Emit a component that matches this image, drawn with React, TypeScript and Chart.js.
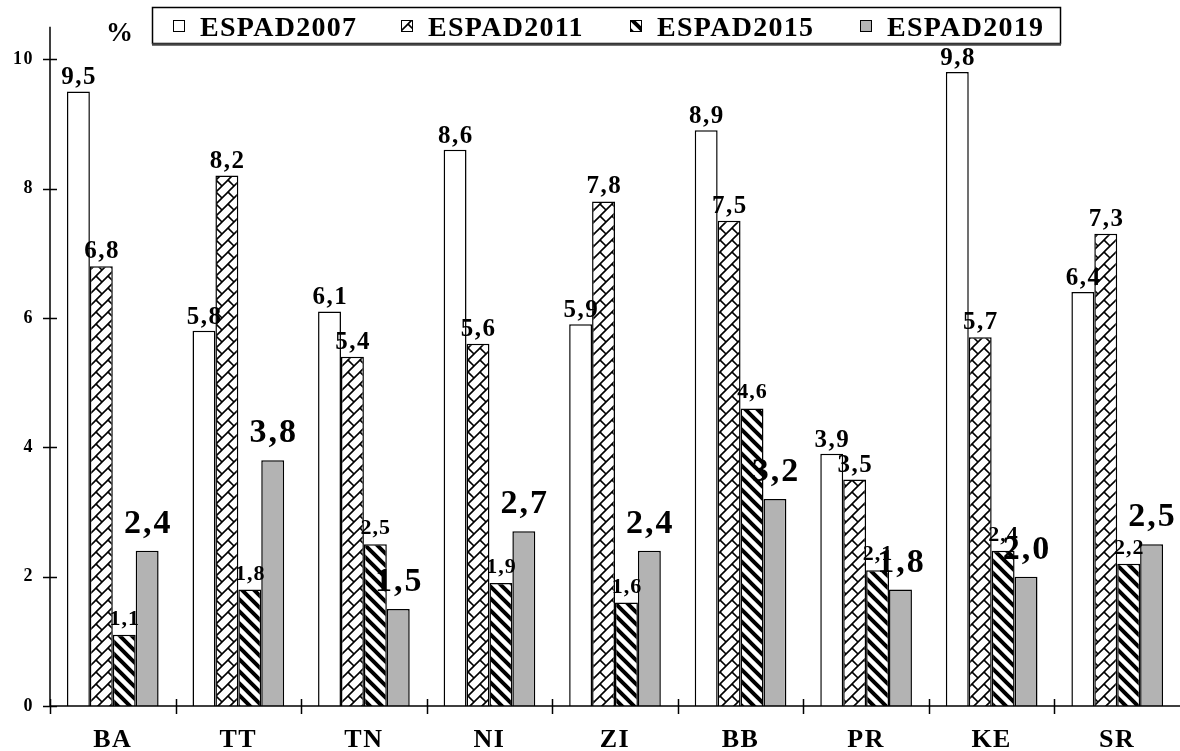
import React, { useEffect, useRef } from "react";
import { Chart, registerables } from "chart.js";

Chart.register(...registerables);

const categories = ["BA", "TT", "TN", "NI", "ZI", "BB", "PR", "KE", "SR"];
const seriesNames = ["ESPAD2007", "ESPAD2011", "ESPAD2015", "ESPAD2019"];
const espad2007 = [9.5, 5.8, 6.1, 8.6, 5.9, 8.9, 3.9, 9.8, 6.4];
const espad2011 = [6.8, 8.2, 5.4, 5.6, 7.8, 7.5, 3.5, 5.7, 7.3];
const espad2015 = [1.1, 1.8, 2.5, 1.9, 1.6, 4.6, 2.1, 2.4, 2.2];
const espad2019 = [2.4, 3.8, 1.5, 2.7, 2.4, 3.2, 1.8, 2.0, 2.5];
const yTicks = [0, 2, 4, 6, 8, 10];
const yMax = 10.5;
const unitLabel = "%";

const SERIF = '"Liberation Serif", "Times New Roman", serif';

function makeHatch2011(ctx: CanvasRenderingContext2D): CanvasPattern {
  const s = 12;
  const c = document.createElement("canvas");
  c.width = s;
  c.height = s;
  const g = c.getContext("2d")!;
  g.fillStyle = "#fff";
  g.fillRect(0, 0, s, s);
  g.strokeStyle = "#000";
  g.lineWidth = 1.6;
  g.beginPath();
  for (const k of [-s, 0, s]) {
    g.moveTo(-2 + k, s + 2);
    g.lineTo(s + 2 + k, -2);
  }
  g.moveTo(0, 0);
  g.lineTo(6, 6);
  g.stroke();
  return ctx.createPattern(c, "repeat")!;
}

function makeHatch2015(ctx: CanvasRenderingContext2D): CanvasPattern {
  const s = 12;
  const c = document.createElement("canvas");
  c.width = s;
  c.height = s;
  const g = c.getContext("2d")!;
  g.fillStyle = "#fff";
  g.fillRect(0, 0, s, s);
  g.strokeStyle = "#000";
  g.lineWidth = 4;
  g.beginPath();
  for (const k of [-s, 0, s]) {
    g.moveTo(-2 + k, -2);
    g.lineTo(s + 2 + k, s + 2);
  }
  g.stroke();
  return ctx.createPattern(c, "repeat")!;
}

function fmt(v: number): string {
  return v.toFixed(1).replace(".", ",");
}

function drawSpaced(
  ctx: CanvasRenderingContext2D,
  text: string,
  cx: number,
  y: number,
  spacing: number,
  align: "center" | "left" | "right"
) {
  (ctx as any).letterSpacing = spacing + "px";
  ctx.textAlign = "left";
  const w = ctx.measureText(text).width - spacing;
  let x = cx;
  if (align === "center") x = cx - w / 2;
  else if (align === "right") x = cx - w;
  ctx.fillText(text, x, y);
  (ctx as any).letterSpacing = "0px";
}

export default function App() {
  const ref = useRef<HTMLCanvasElement | null>(null);

  useEffect(() => {
    document.body.style.margin = "0";
    const canvas = ref.current!;
    const ctx = canvas.getContext("2d")!;
    const p2011 = makeHatch2011(ctx);
    const p2015 = makeHatch2015(ctx);
    const fills: (string | CanvasPattern)[] = ["#ffffff", p2011, p2015, "#b3b3b3"];
    const seriesData = [espad2007, espad2011, espad2015, espad2019];
    const labelFonts = [
      { size: 25, gap: 7, sp: 1.5 },
      { size: 25, gap: 8, sp: 1.5 },
      { size: 22, gap: 10, sp: 1 },
      { size: 34, gap: 18, sp: 2 },
    ];

    const decor = {
      id: "decor",
      beforeDraw(chart: any) {
        const c = chart.ctx as CanvasRenderingContext2D;
        c.save();
        c.fillStyle = "#fff";
        c.fillRect(0, 0, chart.width, chart.height);
        c.restore();
        (c as any).letterSpacing = "1.5px";
      },
      afterDraw(chart: any) {
        const c = chart.ctx as CanvasRenderingContext2D;
        (c as any).letterSpacing = "0px";
        const area = chart.chartArea;
        const xs = chart.scales.x;
        const ys = chart.scales.y;
        c.save();
        c.strokeStyle = "#000";
        c.lineWidth = 1.5;
        c.beginPath();
        c.moveTo(area.left, area.top);
        c.lineTo(area.left, area.bottom);
        c.moveTo(area.left, area.bottom);
        c.lineTo(area.right, area.bottom);
        for (const v of yTicks) {
          const y = Math.round(ys.getPixelForValue(v)) + 0.5;
          c.moveTo(area.left - 7, y);
          c.lineTo(area.left + 7, y);
        }
        const n = categories.length;
        const w = (area.right - area.left) / n;
        for (let i = 0; i < n; i++) {
          const x = Math.round(xs.getPixelForValue(i) - w / 2) + 0.5;
          c.moveTo(x, area.bottom - 7);
          c.lineTo(x, area.bottom + 8);
        }
        c.stroke();

        c.fillStyle = "#000";
        c.textBaseline = "alphabetic";
        for (let d = 0; d < seriesData.length; d++) {
          const meta = chart.getDatasetMeta(d);
          const lf = labelFonts[d];
          c.font = `bold ${lf.size}px ${SERIF}`;
          meta.data.forEach((bar: any, i: number) => {
            drawSpaced(c, fmt(seriesData[d][i]), bar.x, bar.y - lf.gap, lf.sp, "center");
          });
        }

        c.font = `bold 27px ${SERIF}`;
        drawSpaced(c, unitLabel, 106, 41, 0, "left");

        c.lineWidth = 1.5;
        c.strokeStyle = "#000";
        c.strokeRect(152.5, 7.5, 908, 36);
        c.strokeStyle = "#444";
        c.lineWidth = 2.5;
        c.beginPath();
        c.moveTo(152, 44.5);
        c.lineTo(1061, 44.5);
        c.stroke();
        const markerX = [173, 401, 630, 860];
        const textX = [200, 428, 657, 887];
        c.font = `bold 28px ${SERIF}`;
        for (let d = 0; d < seriesNames.length; d++) {
          c.fillStyle = fills[d] as any;
          c.fillRect(markerX[d], 20, 12, 12);
          c.strokeStyle = "#000";
          c.lineWidth = 1;
          c.strokeRect(markerX[d] + 0.5, 20.5, 11, 11);
          c.fillStyle = "#000";
          drawSpaced(c, seriesNames[d], textX[d], 36, 1.3, "left");
        }
        c.restore();
      },
    };

    const chart = new Chart(canvas, {
      type: "bar",
      data: {
        labels: categories,
        datasets: seriesNames.map((name, d) => ({
          label: name,
          data: seriesData[d],
          backgroundColor: fills[d] as any,
          borderColor: "#000",
          borderWidth: 1.5,
          barPercentage: 1,
          categoryPercentage: 0.73,
        })),
      },
      options: {
        responsive: false,
        animation: false,
        devicePixelRatio: 1,
        layout: { padding: { top: 25, right: 0, bottom: 0, left: 0 } },
        plugins: {
          legend: { display: false },
          tooltip: { enabled: false },
        },
        scales: {
          x: {
            grid: { display: false, drawTicks: false },
            border: { display: false },
            ticks: {
              color: "#000",
              padding: 19,
              font: { family: SERIF, size: 26, weight: "bold" },
              maxRotation: 0,
            },
            afterFit(s: any) {
              s.height = 45;
            },
          },
          y: {
            min: 0,
            max: yMax,
            grid: { display: false, drawTicks: false },
            border: { display: false },
            ticks: {
              color: "#000",
              padding: 16,
              font: { family: SERIF, size: 18, weight: "bold" },
            },
            afterBuildTicks(s: any) {
              s.ticks = yTicks.map((v) => ({ value: v }));
            },
            afterFit(s: any) {
              s.width = 50;
            },
          },
        },
      },
      plugins: [decor],
    } as any);

    return () => chart.destroy();
  }, []);

  return (
    <div style={{ width: 1180, height: 751 }}>
      <canvas ref={ref} width={1180} height={751} style={{ display: "block" }} />
    </div>
  );
}
